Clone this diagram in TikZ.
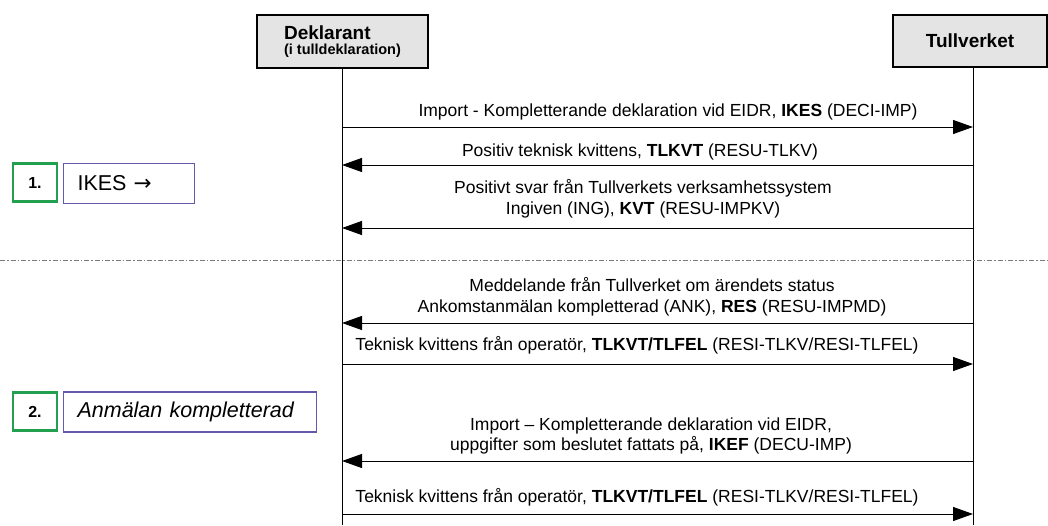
\documentclass[tikz,border=0pt]{standalone}
\usepackage{fontspec}
\setmainfont{Liberation Sans}
\newfontfamily\symfont{DejaVu Sans}
\usetikzlibrary{arrows.meta}
\definecolor{hdrgray}{HTML}{E4E4E4}
\definecolor{stepgreen}{HTML}{22A050}
\definecolor{boxpurple}{HTML}{6658AA}
\definecolor{sepgray}{HTML}{7A7A7A}
\begin{document}
\begin{tikzpicture}[x=1pt,y=-1pt,
  hdr/.style={draw,line width=2.8pt,fill=hdrgray,inner sep=0pt,font=\bfseries},
  life/.style={line width=0.8pt},
  msg/.style={line width=1pt,-{Triangle[length=20pt,width=14pt]}},
  lbl/.style={inner sep=0pt,font=\fontsize{17.5}{20.5}\selectfont,align=center},
  numbox/.style={draw=stepgreen,line width=2.8pt,fill=white,minimum width=44pt,minimum height=38pt,inner sep=0pt,font=\fontsize{16}{18}\selectfont\bfseries},
  statebox/.style={draw=boxpurple,line width=1.1pt,fill=white,minimum height=40pt,inner sep=0pt,font=\fontsize{21.5}{24}\selectfont,anchor=west}
]
\useasboundingbox (0,0) rectangle (1048,525);

% headers
\node[hdr,minimum width=171pt,minimum height=53pt,align=left] (dekl) at (342.5,41.5)
  {\fontsize{19}{22}\selectfont Deklarant\\[3pt]\fontsize{14.5}{17}\selectfont (i tulldeklaration)};
\node[hdr,minimum width=154pt,minimum height=52pt] (tull) at (970,41)
  {\fontsize{19}{22}\selectfont Tullverket};

% lifelines
\coordinate (DL) at (342,525);
\coordinate (TL) at (973,525);
\draw[life] (dekl.south -| DL) -- (DL);
\draw[life] (tull.south -| TL) -- (TL);

% separator
\coordinate (sepL) at (0,260);
\coordinate (sepR) at (1048,260);
\draw[sepgray,line width=1pt,dash pattern=on 5pt off 2pt on 1.5pt off 2pt] (sepL) -- (sepR);

% message coordinates
\foreach \i/\y in {1/127,2/165,3/228,4/323,5/364,6/461,7/514}{
  \coordinate (D\i) at (342,\y);
  \coordinate (T\i) at (973,\y);
}

\draw[msg] (D1) -- (T1);
\node[lbl] (m1) at (668,112) {Import - Kompletterande deklaration vid EIDR, \textbf{IKES} (DECI-IMP)};

\draw[msg] (T2) -- (D2);
\node[lbl] (m2) at (640,152) {Positiv teknisk kvittens, \textbf{TLKVT} (RESU-TLKV)};

\draw[msg] (T3) -- (D3);
\node[lbl] (m3) at (643,199) {Positivt svar från Tullverkets verksamhetssystem\\Ingiven (ING), \textbf{KVT} (RESU-IMPKV)};

\draw[msg] (T4) -- (D4);
\node[lbl] (m4) at (652,297) {Meddelande från Tullverket om ärendets status\\Ankomstanmälan kompletterad (ANK), \textbf{RES} (RESU-IMPMD)};

\draw[msg] (D5) -- (T5);
\node[lbl] (m5) at (637,345) {Teknisk kvittens från operatör, \textbf{TLKVT/TLFEL} (RESI-TLKV/RESI-TLFEL)};

\draw[msg] (T6) -- (D6);
\node[lbl] (m6) at (651,436) {Import – Kompletterande deklaration vid EIDR,\\uppgifter som beslutet fattats på, \textbf{IKEF} (DECU-IMP)};

\draw[msg] (D7) -- (T7);
\node[lbl] (m7) at (637,497) {Teknisk kvittens från operatör, \textbf{TLKVT/TLFEL} (RESI-TLKV/RESI-TLFEL)};

% step boxes
\node[numbox] (n1) at (35,182.5) {1.};
\node[statebox,minimum width=131pt,text width=103pt] (s1) at (63,183.5) {IKES {\symfont →}};
\node[numbox] (n2) at (35,411.5) {2.};
\node[statebox,minimum width=253pt,text width=225pt] (s2) at (63,412) {\itshape Anmälan kompletterad};
\end{tikzpicture}
\end{document}
